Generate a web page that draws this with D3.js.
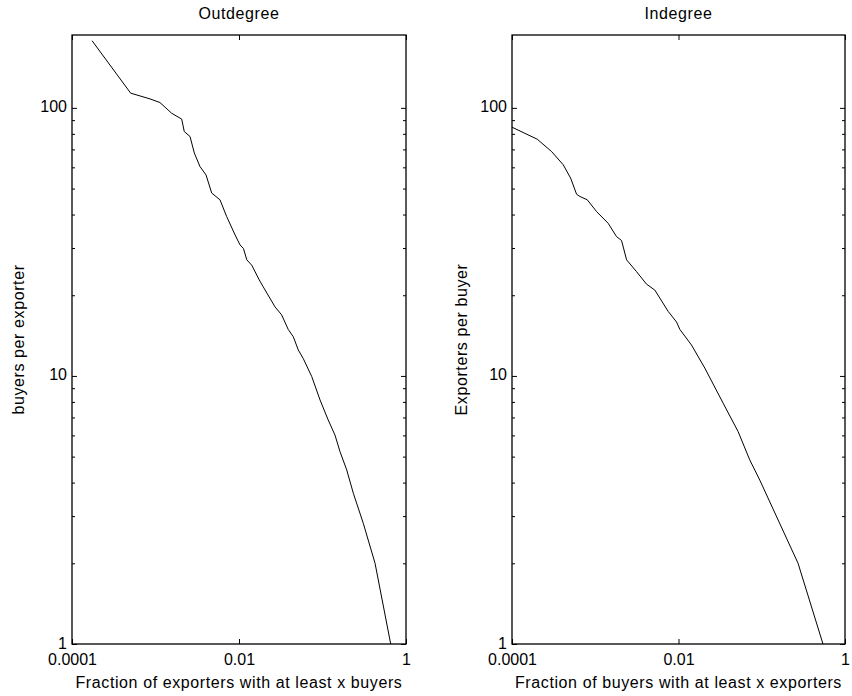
<!DOCTYPE html>
<html>
<head>
<meta charset="utf-8">
<script src="https://cdn.jsdelivr.net/npm/d3@7"></script>
<style>
  body { margin: 0; background: #fff; }
  svg { display: block; font-family: "Liberation Sans", Arial, sans-serif; }
</style>
</head>
<body>
<div id="chart"></div>
<script>
// Outdegree: fraction of exporters with at least x buyers vs buyers per exporter
const outFraction = [1.74e-4, 5.04e-4, 8.6e-4, 1.13e-3, 1.56e-3, 2.06e-3, 2.21e-3, 2.59e-3, 2.92e-3, 3.41e-3,
  4.03e-3, 4.71e-3, 5.92e-3, 7.12e-3, 8.96e-3, 1.03e-2, 1.13e-2, 1.24e-2, 1.42e-2, 1.75e-2,
  1.95e-2, 2.70e-2, 3.24e-2, 3.89e-2, 4.47e-2, 5.13e-2, 5.89e-2, 7.43e-2, 9.34e-2, 0.117,
  0.141, 0.162, 0.195, 0.234, 0.308, 0.426, 0.656];
const outBuyers = [178, 113.5, 108, 104.7, 95.5, 90.8, 81.6, 78.2, 67.8, 60.4,
  56.2, 48.1, 45.4, 39.3, 33.6, 30.8, 29.9, 27.1, 25.9, 22.8,
  21.5, 18.1, 16.9, 14.9, 14.0, 12.5, 11.6, 9.95, 8.14, 6.85,
  6.02, 5.22, 4.46, 3.65, 2.82, 2.0, 1];

// Indegree: fraction of buyers with at least x exporters vs exporters per buyer
const inFraction = [1e-4, 2.01e-4, 2.99e-4, 4.13e-4, 5.06e-4, 5.97e-4, 6.55e-4, 8.02e-4, 1.04e-3, 1.43e-3,
  1.80e-3, 2.07e-3, 2.38e-3, 3.13e-3, 4.13e-3, 5.20e-3, 7.52e-3, 9.46e-3, 1.04e-2, 1.43e-2,
  2.07e-2, 3.44e-2, 5.20e-2, 7.18e-2, 9.46e-2, 0.273, 0.544];
const inExporters = [84.7, 76.4, 68.7, 61.3, 54.7, 47.6, 46.7, 45.4, 41.0, 37.1,
  33.1, 32.0, 27.1, 24.5, 22.0, 20.9, 17.4, 15.9, 14.9, 13.05,
  10.7, 7.91, 6.20, 4.86, 4.09, 2.0, 1];

const xDomain = [1e-4, 1];
const yDomain = [1, 187];
const xTickValues = [1e-4, 1e-2, 1];
const xTickLabels = ["0.0001", "0.01", "1"];
const yTickValues = [1, 10, 100];
const yTickLabels = ["1", "10", "100"];

const panels = [
  { title: "Outdegree", xLabel: "Fraction of exporters with at least x buyers",
    yLabel: "buyers per exporter", xs: outFraction, ys: outBuyers, left: 72, right: 406, yLabelX: 24 },
  { title: "Indegree", xLabel: "Fraction of buyers with at least x exporters",
    yLabel: "Exporters per buyer", xs: inFraction, ys: inExporters, left: 512, right: 845, yLabelX: 467 },
];

const width = 852;
const height = 696;
const plotTop = 35;
const plotBottom = 644;

const svg = d3.select("#chart")
  .append("svg")
  .attr("width", width)
  .attr("height", height);

// minor ticks for the log y axis: 2..9 in each decade
const yMinor = [];
for (let dec = 1; dec <= 100; dec *= 10) {
  for (let k = 2; k <= 9; k++) {
    if (k * dec < yDomain[1]) yMinor.push(k * dec);
  }
}

panels.forEach((p) => {
  const x = d3.scaleLog().domain(xDomain).range([p.left, p.right]);
  const y = d3.scaleLog().domain(yDomain).range([plotBottom, plotTop]);

  const g = svg.append("g");

  const styleAxis = (sel) => {
    sel.select(".domain").remove();
    sel.selectAll("line").attr("stroke", "#000");
    sel.selectAll("text").attr("fill", "#000").attr("font-size", 16);
  };

  g.append("g")
    .attr("transform", `translate(0,${plotBottom})`)
    .call(d3.axisBottom(x).tickValues(xTickValues).tickSizeInner(-5).tickSizeOuter(0)
      .tickPadding(10).tickFormat((d, i) => xTickLabels[i]))
    .call(styleAxis);

  g.append("g")
    .attr("transform", `translate(0,${plotTop})`)
    .call(d3.axisTop(x).tickValues(xTickValues).tickSizeInner(-5).tickSizeOuter(0).tickFormat(""))
    .call(styleAxis);

  g.append("g")
    .attr("transform", `translate(${p.left},0)`)
    .call(d3.axisLeft(y).tickValues(yTickValues).tickSizeInner(-5).tickSizeOuter(0)
      .tickPadding(5).tickFormat((d, i) => yTickLabels[i]))
    .call(styleAxis)
    .call((sel) => sel.selectAll("text").attr("dy", "0.25em"));

  g.append("g")
    .attr("transform", `translate(${p.left},0)`)
    .call(d3.axisLeft(y).tickValues(yMinor).tickSizeInner(-3).tickSizeOuter(0).tickFormat(""))
    .call(styleAxis);

  g.append("g")
    .attr("transform", `translate(${p.right},0)`)
    .call(d3.axisRight(y).tickValues(yTickValues).tickSizeInner(-5).tickSizeOuter(0).tickFormat(""))
    .call(styleAxis);

  g.append("g")
    .attr("transform", `translate(${p.right},0)`)
    .call(d3.axisRight(y).tickValues(yMinor).tickSizeInner(-3).tickSizeOuter(0).tickFormat(""))
    .call(styleAxis);

  // frame
  g.append("rect")
    .attr("x", p.left)
    .attr("y", plotTop)
    .attr("width", p.right - p.left)
    .attr("height", plotBottom - plotTop)
    .attr("fill", "none")
    .attr("stroke", "#000")
    .attr("stroke-width", 1.3);

  const line = d3.line()
    .x((d) => x(d[0]))
    .y((d) => y(d[1]));

  g.append("path")
    .datum(p.xs.map((v, i) => [v, p.ys[i]]))
    .attr("d", line)
    .attr("fill", "none")
    .attr("stroke", "#000")
    .attr("stroke-width", 1);

  g.append("text")
    .attr("x", (p.left + p.right) / 2)
    .attr("y", 19)
    .attr("text-anchor", "middle")
    .attr("font-size", 16)
    .attr("letter-spacing", 0.6)
    .text(p.title);

  g.append("text")
    .attr("x", (p.left + p.right) / 2)
    .attr("y", 688)
    .attr("text-anchor", "middle")
    .attr("font-size", 16)
    .attr("letter-spacing", 0.6)
    .text(p.xLabel);

  g.append("text")
    .attr("transform", `translate(${p.yLabelX},${(plotTop + plotBottom) / 2}) rotate(-90)`)
    .attr("text-anchor", "middle")
    .attr("font-size", 16)
    .attr("letter-spacing", 0.6)
    .text(p.yLabel);
});
</script>
</body>
</html>
